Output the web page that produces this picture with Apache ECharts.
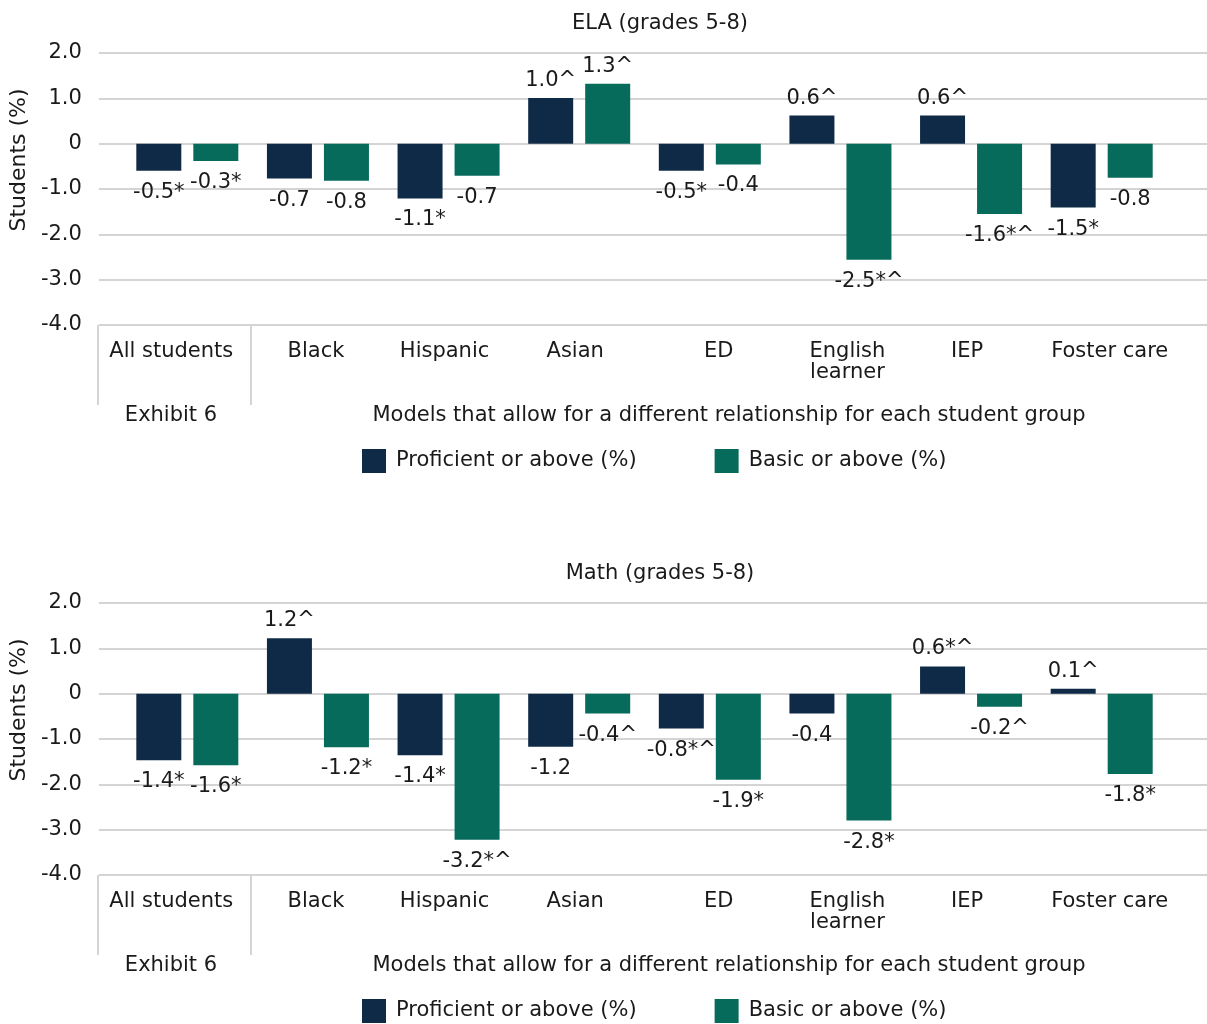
<!DOCTYPE html>
<html>
<head>
<meta charset="utf-8">
<script src="https://cdn.jsdelivr.net/npm/echarts@6/dist/echarts.min.js"></script>
<style>
html,body{margin:0;padding:0;background:#fff;}
#chart{width:1207px;height:1024px;}
</style>
</head>
<body>
<div id="chart"></div>
<script>
const categories = ['All students','Black','Hispanic','Asian','ED','English\nlearner','IEP','Foster care'];
const seriesNames = ['Proficient or above (%)','Basic or above (%)'];
const panelTitles = ['ELA (grades 5-8)','Math (grades 5-8)'];
const groupLabels = ['Exhibit 6','Models that allow for a different relationship for each student group'];
const yMin = -4, yMax = 2, yStep = 1;

const elaProficient = [-0.60,-0.77,-1.21,1.01,-0.60,0.62,0.62,-1.41];
const elaProficientLabels = ['-0.5*','-0.7','-1.1*','1.0^','-0.5*','0.6^','0.6^','-1.5*'];
const elaBasic = [-0.38,-0.82,-0.71,1.32,-0.46,-2.56,-1.55,-0.75];
const elaBasicLabels = ['-0.3*','-0.8','-0.7','1.3^','-0.4','-2.5*^','-1.6*^','-0.8'];

const mathProficient = [-1.47,1.22,-1.36,-1.17,-0.77,-0.44,0.60,0.11];
const mathProficientLabels = ['-1.4*','1.2^','-1.4*','-1.2','-0.8*^','-0.4','0.6*^','0.1^'];
const mathBasic = [-1.58,-1.18,-3.22,-0.44,-1.90,-2.80,-0.29,-1.77];
const mathBasicLabels = ['-1.6*','-1.2*','-3.2*^','-0.4^','-1.9*','-2.8*','-0.2^','-1.8*'];

const NAVY = '#0f2a47';
const TEAL = '#066b5b';
const TEXT = '#1a1a1a';
const GRID = '#d4d4d4';
const FONT = 'DejaVu Sans';
const FS = 21;

// horizontal nudges of category labels (px) to mimic the original's label placement
const labelShift = [-16, -2, -4, -4, 9, 7, -4, 8];

const panels = [
  {top: 53, title: panelTitles[0], prof: elaProficient, profL: elaProficientLabels, basic: elaBasic, basicL: elaBasicLabels},
  {top: 603, title: panelTitles[1], prof: mathProficient, profL: mathProficientLabels, basic: mathBasic, basicL: mathBasicLabels}
];
const plotH = 272;

const option = {
  animation: false,
  backgroundColor: '#fff',
  textStyle: {fontFamily: FONT, color: TEXT},
  title: [], legend: [], grid: [], xAxis: [], yAxis: [], series: [], graphic: []
};

function mk(values, labels, color, name, axisIdx) {
  return {
    type: 'bar', name: name, xAxisIndex: axisIdx, yAxisIndex: axisIdx,
    barWidth: 45, barGap: '26.7%',
    itemStyle: {color: color},
    data: values.map(v => ({value: v, label: {position: v < 0 ? 'bottom' : 'top', distance: v < 0 ? 11 : 7}})),
    label: {
      show: true, fontSize: FS, fontFamily: FONT, color: TEXT,
      formatter: p => labels[p.dataIndex]
    }
  };
}

const catData = categories.map((c, k) => ({
  value: c,
  textStyle: {padding: labelShift[k] >= 0 ? [0, 0, 0, 2 * labelShift[k]] : [0, -2 * labelShift[k], 0, 0]}
}));

panels.forEach((p, i) => {
  const g0 = i * 2, g1 = i * 2 + 1;
  const bottom = p.top + plotH;
  option.title.push({
    text: p.title, left: 655, top: p.top - 45, textAlign: 'center',
    textStyle: {fontSize: FS, fontWeight: 'normal', fontFamily: FONT, color: TEXT}
  });
  option.legend.push({
    data: seriesNames, left: 362, top: bottom + 124, padding: 0, itemWidth: 24, itemHeight: 24,
    itemGap: 78, icon: 'rect', selectedMode: false,
    textStyle: {fontSize: FS, fontFamily: FONT, color: TEXT, padding: [0,0,0,5]}
  });
  option.grid.push({left: 98, right: 0, top: p.top, height: plotH});
  option.grid.push({left: 122, width: 1045, top: p.top, height: plotH});
  option.xAxis.push({gridIndex: g0, type: 'category', data: categories, show: false});
  option.xAxis.push({
    gridIndex: g1, type: 'category', data: catData,
    axisLine: {show: false}, axisTick: {show: false},
    axisLabel: {interval: 0, margin: 16, fontSize: FS, lineHeight: 21, fontFamily: FONT, color: TEXT}
  });
  option.yAxis.push({
    gridIndex: g0, type: 'value', min: yMin, max: yMax, interval: yStep,
    axisLine: {show: false}, axisTick: {show: false},
    axisLabel: {margin: 17, fontSize: FS, fontFamily: FONT, color: TEXT,
      formatter: v => v === 0 ? '0' : v.toFixed(1)},
    splitLine: {lineStyle: {color: GRID, width: 2}},
    name: 'Students (%)', nameLocation: 'middle', nameGap: 68,
    nameTextStyle: {fontSize: 22, fontFamily: FONT, color: TEXT, padding: [0,0,0,58]}
  });
  option.yAxis.push({gridIndex: g1, type: 'value', min: yMin, max: yMax, interval: yStep, show: false, splitLine: {show: false}});
  option.series.push(mk(p.prof, p.profL, NAVY, seriesNames[0], g1));
  option.series.push(mk(p.basic, p.basicL, TEAL, seriesNames[1], g1));
  [98, 251].forEach(x => option.graphic.push({
    type: 'line', shape: {x1: x, y1: bottom, x2: x, y2: bottom + 80},
    style: {stroke: GRID, lineWidth: 2}
  }));
  option.graphic.push({type: 'text', x: 171, y: bottom + 91, style: {text: groupLabels[0], font: FS + 'px "DejaVu Sans"', fill: TEXT, textAlign: 'center', textVerticalAlign: 'middle'}});
  option.graphic.push({type: 'text', x: 729, y: bottom + 91, style: {text: groupLabels[1], font: FS + 'px "DejaVu Sans"', fill: TEXT, textAlign: 'center', textVerticalAlign: 'middle'}});
});

const chart = echarts.init(document.getElementById('chart'));
chart.setOption(option);
</script>
</body>
</html>
